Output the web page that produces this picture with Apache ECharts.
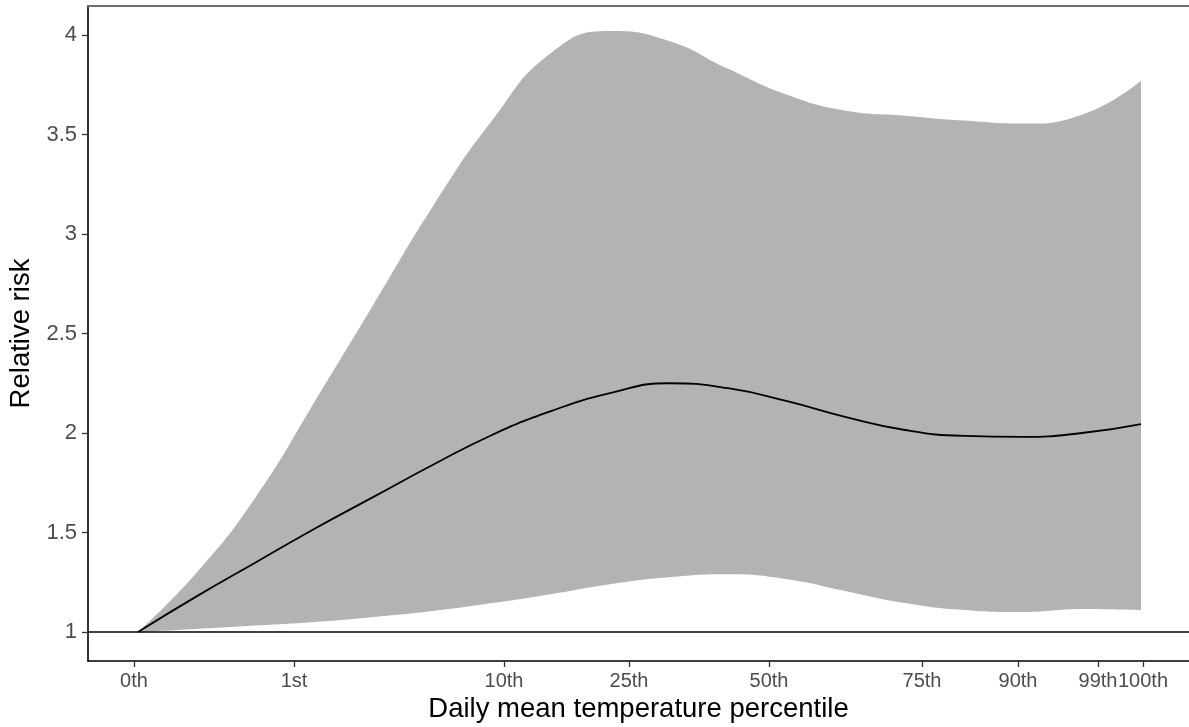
<!DOCTYPE html>
<html>
<head>
<meta charset="utf-8">
<script src="https://cdn.jsdelivr.net/npm/echarts@6/dist/echarts.min.js"></script>
<style>
html,body{margin:0;padding:0;background:#fff;}
#chart{width:1189px;height:727px;}
</style>
</head>
<body>
<div id="chart"></div>
<script>
// Daily mean temperature (arbitrary °C scale) at which the curve is sampled
const temperature = [-7.86,-5.795,-3.73,-1.665,0.4,2.465,4.53,6.595,8.66,10.725,12.79,14.855,16.92,18.985,21.05,23.115,25.18,27.245];
// Relative risk: fitted curve, lower and upper confidence bounds
const rrFit  = [1.0,1.18,1.35,1.52,1.68,1.84,1.99,2.11,2.20,2.25,2.225,2.16,2.08,2.015,1.985,1.98,2.0,2.045];
const rrLow  = [1.0,1.015,1.032,1.05,1.075,1.105,1.145,1.19,1.24,1.275,1.29,1.265,1.205,1.145,1.11,1.10,1.115,1.11];
const rrHigh = [1.0,1.30,1.68,2.16,2.65,3.14,3.57,3.91,4.02,3.97,3.83,3.70,3.62,3.595,3.57,3.555,3.60,3.77];
// Percentile tick positions (temperature) and labels
const xTickValues = [-8,-2.4,4.95,9.325,14.225,19.58,22.94,25.74,27.315];
const xTickLabels = ['0th','1st','10th','25th','50th','75th','90th','99th','100th'];
const yTickValues = [1,1.5,2,2.5,3,3.5,4];

const highData = temperature.map((t,i)=>[t,rrHigh[i]]);
const lowData = temperature.map((t,i)=>[t,rrLow[i]]);
const fitData = temperature.map((t,i)=>[t,rrFit[i]]);

const chart = echarts.init(document.getElementById('chart'), null, {renderer:'canvas'});
const FONT = '"Liberation Sans", Arial, sans-serif';
chart.setOption({
  animation:false,
  backgroundColor:'#ffffff',
  grid:{left:88,right:0,top:6,bottom:66,containLabel:false,outerBoundsMode:'none'},
  xAxis:[{
    type:'value', min:-9.61, max:28.925, z:5,
    name:'Daily mean temperature percentile', nameLocation:'middle', nameGap:30,
    nameTextStyle:{color:'#000',fontSize:27.5,fontFamily:FONT},
    axisLine:{show:true,onZero:false,lineStyle:{color:'#000',width:1.6}},
    axisTick:{show:true,length:6,customValues:xTickValues,lineStyle:{color:'#333',width:1.3}},
    axisLabel:{show:true,customValues:xTickValues,margin:10,color:'#4d4d4d',fontSize:20,fontFamily:FONT,
      formatter:function(v){
        for(let i=0;i<xTickValues.length;i++){ if(Math.abs(xTickValues[i]-v)<1e-6) return xTickLabels[i]; }
        return '';
      }},
    splitLine:{show:false}
  },{
    type:'value', position:'top', min:0, max:1, z:5,
    axisLine:{show:true,lineStyle:{color:'#6e6e6e',width:2}},
    axisTick:{show:false}, axisLabel:{show:false}, splitLine:{show:false}
  }],
  yAxis:{
    type:'value', min:0.854, max:4.146, z:5,
    name:'Relative risk', nameLocation:'middle', nameGap:50, nameRotate:90,
    nameTextStyle:{color:'#000',fontSize:27.5,fontFamily:FONT},
    axisLine:{show:true,onZero:false,lineStyle:{color:'#000',width:1.6}},
    axisTick:{show:true,length:6,customValues:yTickValues,lineStyle:{color:'#333',width:1.3}},
    axisLabel:{show:true,customValues:yTickValues,margin:11,color:'#4d4d4d',fontSize:22,fontFamily:FONT},
    splitLine:{show:false}
  },
  series:[
    {type:'line',name:'upper',data:highData,smooth:0.5,symbol:'none',
      lineStyle:{width:0,opacity:0},areaStyle:{color:'#b3b3b3',opacity:1,origin:'start'},silent:true,z:1},
    {type:'line',name:'lower',data:lowData,smooth:0.5,symbol:'none',
      lineStyle:{width:0,opacity:0},areaStyle:{color:'#ffffff',opacity:1,origin:'start'},silent:true,z:2},
    {type:'line',name:'fit',data:fitData,smooth:0.5,symbol:'none',
      lineStyle:{color:'#000',width:1.8},z:3,
      markLine:{silent:true,symbol:'none',label:{show:false},
        lineStyle:{color:'#000',width:1.6,type:'solid'},
        data:[{yAxis:1}]}}
  ]
});
</script>
</body>
</html>
